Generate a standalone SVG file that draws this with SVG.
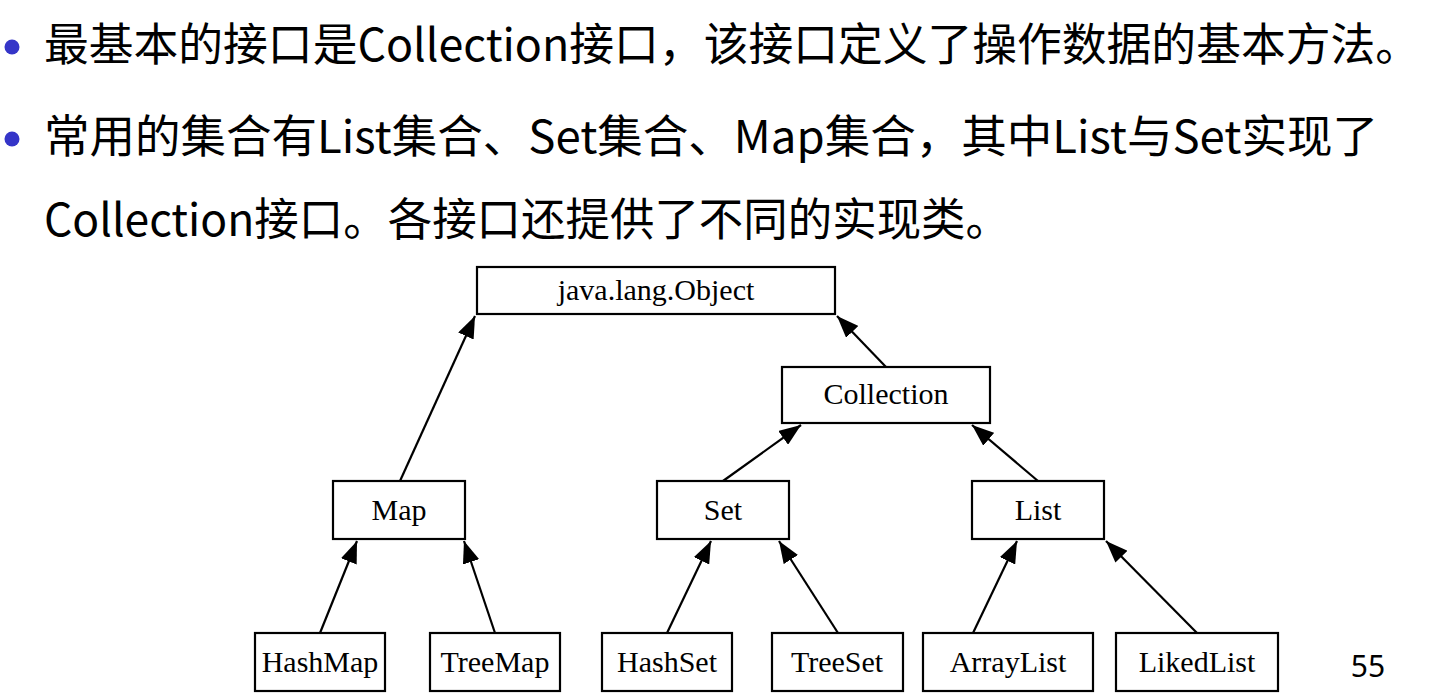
<svg xmlns="http://www.w3.org/2000/svg" width="1454" height="695" viewBox="0 0 1454 695">
<defs>
<style>
.t{font-family:"Noto Sans CJK SC","Noto Sans",sans-serif;font-size:45px;fill:#000}
.n rect{fill:#fff;stroke:#000;stroke-width:2.2}
.n text{font-family:"Liberation Serif","Times New Roman",serif;font-size:30px;fill:#000;text-anchor:middle}
.c line{stroke:#000;stroke-width:2.2}
</style>
<marker id="ah" viewBox="0 0 22 17" refX="22" refY="8.5" markerWidth="22" markerHeight="17" markerUnits="userSpaceOnUse" orient="auto">
<path d="M0,0 L22,8.5 L0,17 Z" fill="#000"/>
</marker>
</defs>
<rect width="1454" height="695" fill="#fff"/>
<g id="text">
<circle cx="12" cy="47" r="7.5" fill="#3535C8"/>
<circle cx="12" cy="139" r="7.5" fill="#3535C8"/>
<text class="t" x="44" y="61" textLength="1376" lengthAdjust="spacingAndGlyphs">最基本的接口是Collection接口，该接口定义了操作数据的基本方法。</text>
<text class="t" x="44" y="153" textLength="1334" lengthAdjust="spacingAndGlyphs">常用的集合有List集合、Set集合、Map集合，其中List与Set实现了</text>
<text class="t" x="44" y="236" textLength="966" lengthAdjust="spacingAndGlyphs">Collection接口。各接口还提供了不同的实现类。</text>
<text x="1368" y="677" style="font-family:'Noto Sans','Liberation Sans',sans-serif;font-size:30px;text-anchor:middle">55</text>
</g>
<g id="connectors" class="c">
<line x1="400" y1="481" x2="475" y2="316" marker-end="url(#ah)"/>
<line x1="886" y1="367" x2="837" y2="316" marker-end="url(#ah)"/>
<line x1="723" y1="481" x2="801" y2="425" marker-end="url(#ah)"/>
<line x1="1038" y1="481" x2="972" y2="425" marker-end="url(#ah)"/>
<line x1="320" y1="633" x2="357" y2="541" marker-end="url(#ah)"/>
<line x1="495" y1="633" x2="464" y2="541" marker-end="url(#ah)"/>
<line x1="667" y1="633" x2="711" y2="541" marker-end="url(#ah)"/>
<line x1="838" y1="633" x2="779" y2="541" marker-end="url(#ah)"/>
<line x1="973" y1="633" x2="1017" y2="541" marker-end="url(#ah)"/>
<line x1="1197" y1="633" x2="1106" y2="541" marker-end="url(#ah)"/>
</g>
<g id="object" class="n"><rect x="477" y="267" width="358" height="47"/><text x="656" y="300">java.lang.Object</text></g>
<g id="collection" class="n"><rect x="782" y="367" width="208" height="56"/><text x="886" y="404">Collection</text></g>
<g id="map" class="n"><rect x="333" y="481" width="132" height="58"/><text x="399" y="520">Map</text></g>
<g id="set" class="n"><rect x="657" y="481" width="132" height="58"/><text x="723" y="520">Set</text></g>
<g id="list" class="n"><rect x="972" y="481" width="132" height="58"/><text x="1038" y="520">List</text></g>
<g id="hashmap" class="n"><rect x="255" y="633" width="130" height="58"/><text x="320" y="672">HashMap</text></g>
<g id="treemap" class="n"><rect x="430" y="633" width="130" height="58"/><text x="495" y="672">TreeMap</text></g>
<g id="hashset" class="n"><rect x="602" y="633" width="130" height="58"/><text x="667" y="672">HashSet</text></g>
<g id="treeset" class="n"><rect x="772" y="633" width="131" height="58"/><text x="837" y="672">TreeSet</text></g>
<g id="arraylist" class="n"><rect x="923" y="633" width="170" height="58"/><text x="1008" y="672">ArrayList</text></g>
<g id="likedlist" class="n"><rect x="1116" y="633" width="162" height="58"/><text x="1197" y="672">LikedList</text></g>
</svg>
